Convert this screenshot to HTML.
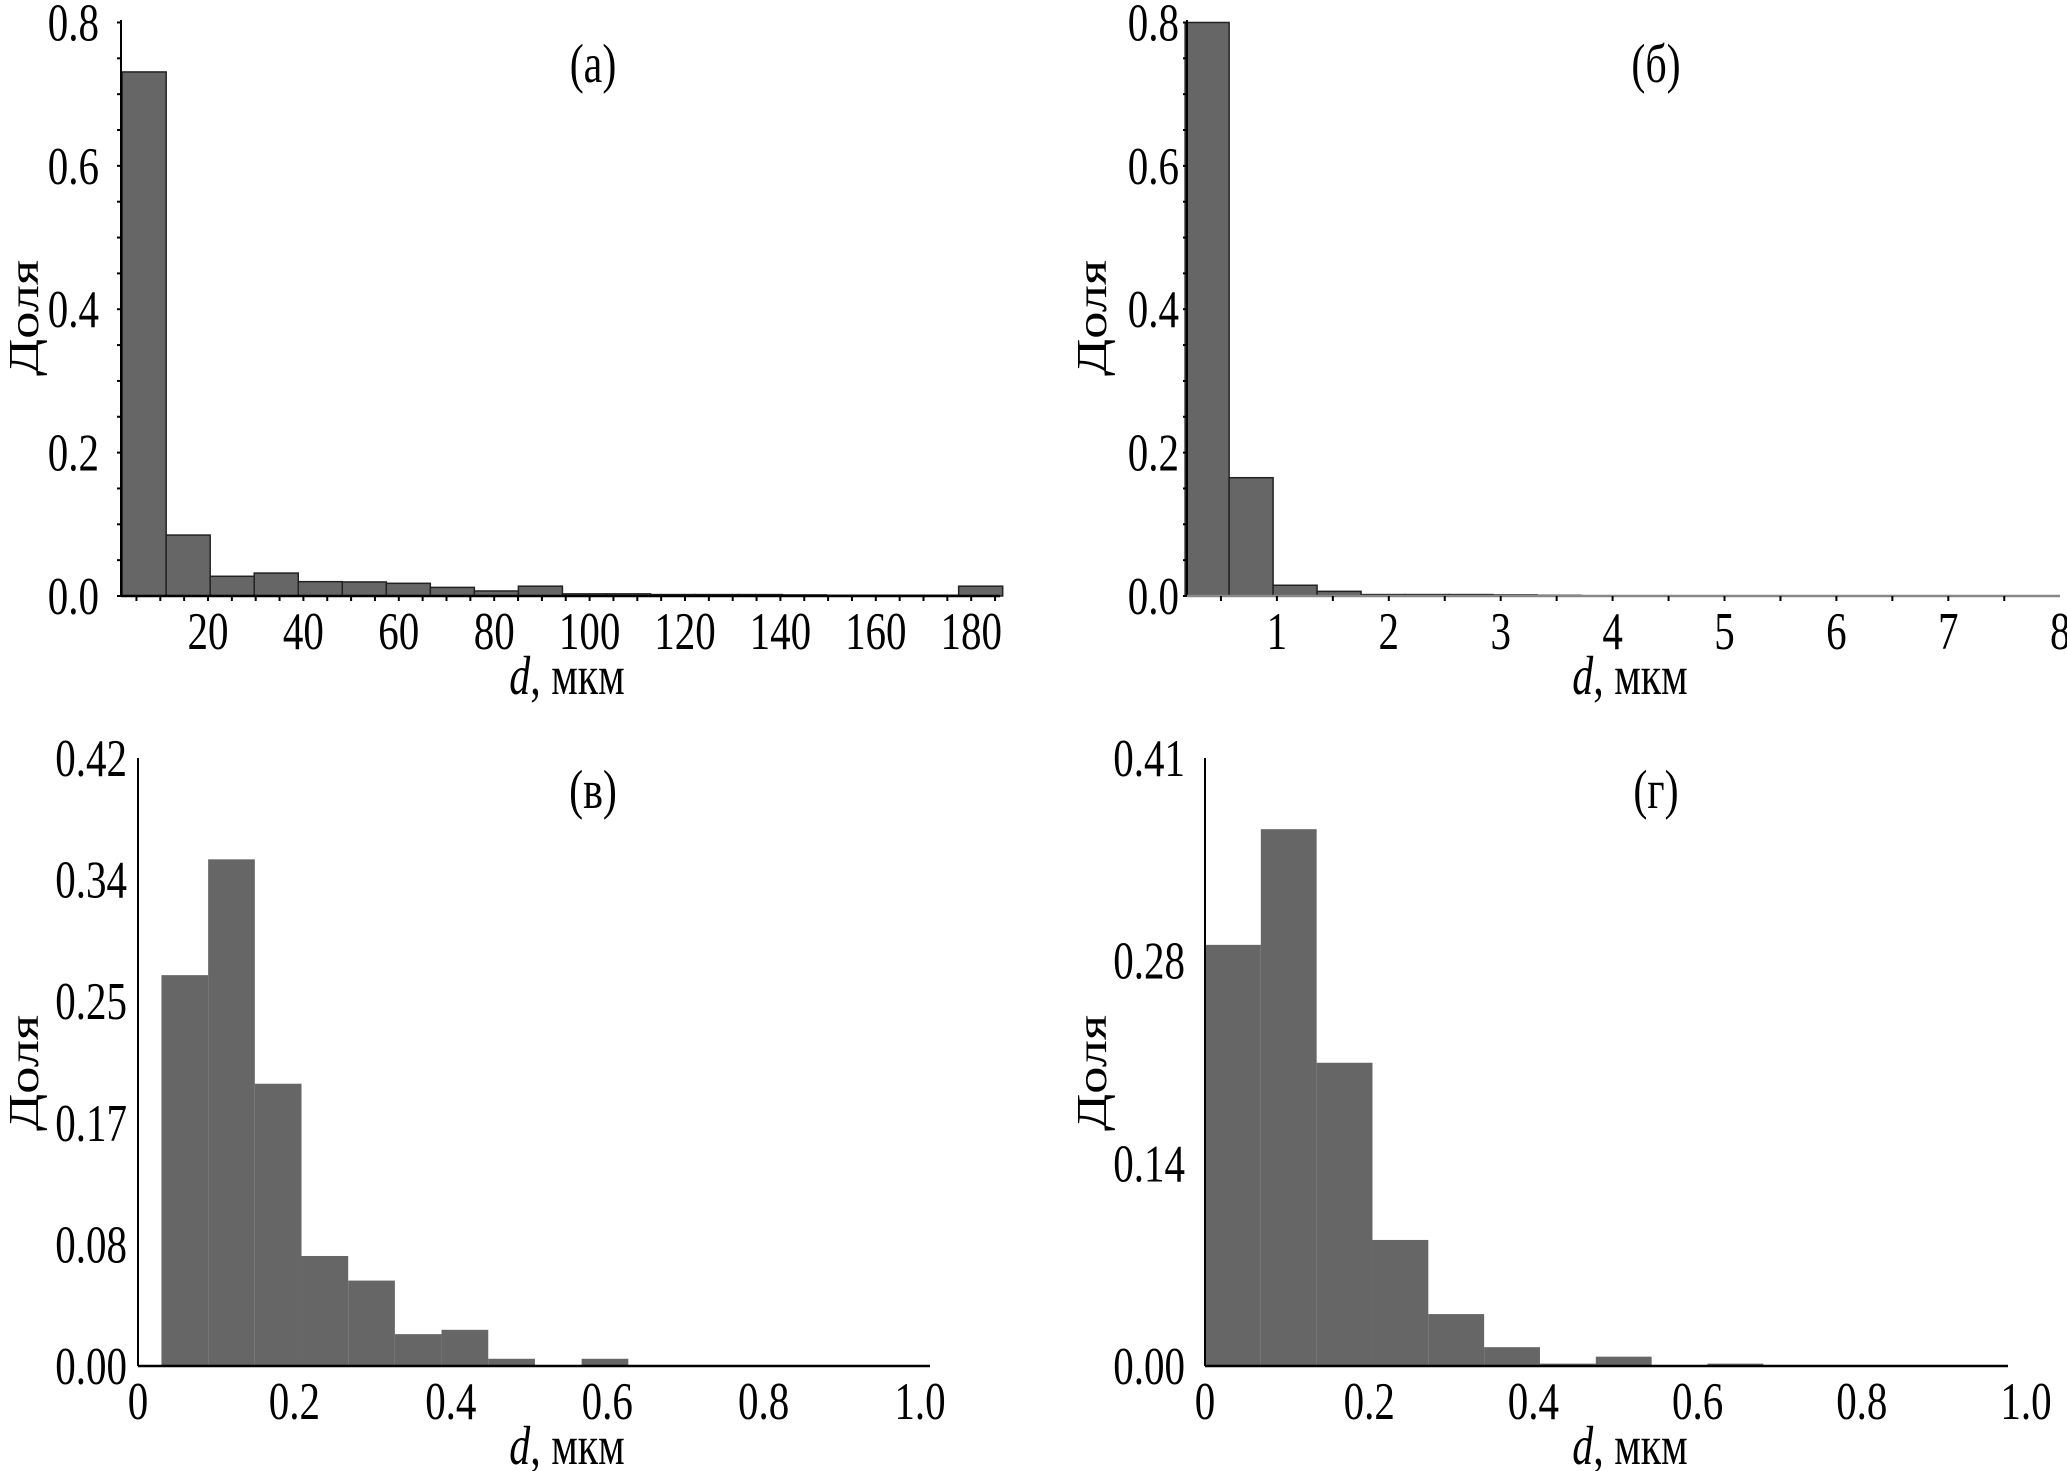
<!DOCTYPE html>
<html><head><meta charset="utf-8"><style>
html,body{margin:0;padding:0;background:#fff;}
svg{display:block;font-family:"Liberation Serif","Times New Roman",serif;}
svg text{font-family:"Liberation Serif","Times New Roman",serif;}
</style></head><body>
<svg id="chart" width="2067" height="1471" viewBox="0 0 2067 1471" xmlns="http://www.w3.org/2000/svg"></svg>
<script>
// Panel (a)
const aValues = [0.731,0.085,0.0275,0.032,0.020,0.0196,0.0177,0.012,0.007,0.0137,0.003,0.003,0.002,0.002,0.002,0.0015,0.001,0.001,0.001,0.0137];
const aStart = 2.0, aWidth = 9.23;
const aXTicks = [20,40,60,80,100,120,140,160,180];
const aYTicks = [0,0.2,0.4,0.6,0.8];
const aYLabels = ["0.0","0.2","0.4","0.6","0.8"];
// Panel (б)
const bValues = [0.8,0.165,0.015,0.0065,0.002,0.002,0.002,0.0015,0.001];
const bStart = 0.18, bWidth = 0.393;
const bXTicks = [1,2,3,4,5,6,7,8];
const bYTicks = [0,0.2,0.4,0.6,0.8];
const bYLabels = ["0.0","0.2","0.4","0.6","0.8"];
// Panel (в)
const cValues = [0.270,0.350,0.195,0.076,0.059,0.022,0.025,0.005,0,0.005];
const cStart = 0.03, cWidth = 0.0597;
const cXTicks = [0,0.2,0.4,0.6,0.8,1.0];
const cXLabels = ["0","0.2","0.4","0.6","0.8","1.0"];
const cYTicks = [0,0.084,0.168,0.252,0.336,0.42];
const cYLabels = ["0.00","0.08","0.17","0.25","0.34","0.42"];
// Panel (г)
const dValues = [0.284,0.362,0.2045,0.085,0.035,0.0127,0.0016,0.0063,0,0.0016];
const dStart = 0.0, dWidth = 0.068;
const dXTicks = [0,0.2,0.4,0.6,0.8,1.0];
const dXLabels = ["0","0.2","0.4","0.6","0.8","1.0"];
const dYTicks = [0,0.1367,0.2733,0.41];
const dYLabels = ["0.00","0.14","0.28","0.41"];

const NS="http://www.w3.org/2000/svg";
const svg=document.getElementById('chart');
const FONT='Liberation Serif, Times New Roman, serif';
const SY=1.3;
function mk(tag,attrs,parent){const e=document.createElementNS(NS,tag);for(const k in attrs)e.setAttribute(k,attrs[k]);(parent||svg).appendChild(e);return e;}
function txt(parent,x,y,anchor,size,extra){
  const t=mk('text',Object.assign({x:0,y:0,'font-size':size,'text-anchor':anchor,'font-family':FONT,transform:`translate(${x},${y}) scale(1,${SY})`},extra||{}),parent);
  return t;
}

function panel(cfg){
  const g=mk('g',{});
  
  
  const X=v=>cfg.x0+cfg.xs*v, Y=v=>cfg.y0-cfg.ys*v;
  cfg.values.forEach((v,i)=>{
    const x1=X(cfg.start+i*cfg.width), x2=X(cfg.start+(i+1)*cfg.width);
    if(v<=0) return;
    const r=mk('rect',{x:x1,y:Y(v),width:x2-x1,height:cfg.y0-Y(v),fill:'#666',stroke:cfg.stroke?'#222':'none','stroke-width':cfg.stroke?1.5:0},g);
    
    
  });
  const ya=mk('line',{x1:cfg.ax,y1:cfg.ytop,x2:cfg.ax,y2:cfg.y0,stroke:'#000','stroke-width':2},g);
  
  
  const xa=mk('line',{x1:cfg.ax,y1:cfg.y0,x2:cfg.xend,y2:cfg.y0,stroke:cfg.xcol||'#000','stroke-width':2.5},g);
  
  
  if(cfg.minorY){for(let v=0;v<=cfg.ymax+1e-9;v+=cfg.minorY){mk('line',{x1:cfg.ax-4,y1:Y(v),x2:cfg.ax,y2:Y(v),stroke:'#000','stroke-width':2},g);}}
  if(cfg.minorX){for(let v=cfg.minorX*Math.ceil((cfg.ax-cfg.x0)/cfg.xs/cfg.minorX);X(v)<=cfg.xend;v+=cfg.minorX){mk('line',{x1:X(v),y1:cfg.y0,x2:X(v),y2:cfg.y0+5,stroke:'#000','stroke-width':2},g);}}
  cfg.xticks.forEach((v,i)=>{
    const t=txt(g,X(v),cfg.y0+53,'middle',41);
    t.textContent=cfg.xlabels?cfg.xlabels[i]:String(v);
    
    
  });
  cfg.yticks.forEach((v,i)=>{
    const t=txt(g,cfg.ax-cfg.ygap,Y(v)+18,'end',41);
    t.textContent=cfg.ylabels[i];
    
    
  });
  const tt=txt(g,cfg.tx,cfg.ty,'middle',42);
  tt.textContent=cfg.title;
  
  
  const xl=txt(g,cfg.lx,cfg.y0+98,'middle',42);
  xl.innerHTML='<tspan font-style="italic">d</tspan>, мкм';
  
  
  const yl=mk('text',{x:0,y:0,'font-size':42,'text-anchor':'middle','font-family':FONT,transform:`translate(${cfg.yx},${cfg.yy}) rotate(-90) scale(1.3,1)`},g);
  yl.textContent='Доля';
  
  
}

panel({name:'panel-a',values:aValues,start:aStart,width:aWidth,x0:112.6,xs:4.77,y0:596,ys:716.9,ax:121,ytop:20,xend:1000,ymax:0.8,minorY:0.05,minorX:5,stroke:true,
  xticks:aXTicks,yticks:aYTicks,ylabels:aYLabels,ygap:22,title:'(а)',tx:593,ty:82,lx:567,yx:38,yy:318});
panel({name:'panel-b',values:bValues,start:bStart,width:bWidth,x0:1165,xs:111.9,y0:596,ys:716.9,ax:1187,ytop:20,xend:2060,ymax:0.8,minorY:0.05,minorX:0.5,stroke:true,xcol:'#888',
  xticks:bXTicks,yticks:bYTicks,ylabels:bYLabels,ygap:8,title:'(б)',tx:1656,ty:82,lx:1630,yx:1106,yy:318});
panel({name:'panel-c',values:cValues,start:cStart,width:cWidth,x0:138,xs:782,y0:1366,ys:1447.6,ax:138,ytop:758,xend:930,ymax:0.42,stroke:false,
  xticks:cXTicks,xlabels:cXLabels,yticks:cYTicks,ylabels:cYLabels,ygap:11,title:'(в)',tx:593,ty:808,lx:567,yx:38,yy:1073});
panel({name:'panel-d',values:dValues,start:dStart,width:dWidth,x0:1205,xs:821,y0:1366,ys:1482.9,ax:1205,ytop:758,xend:2008,ymax:0.41,stroke:false,
  xticks:dXTicks,xlabels:dXLabels,yticks:dYTicks,ylabels:dYLabels,ygap:20,title:'(г)',tx:1656,ty:808,lx:1630,yx:1106,yy:1073});
</script>
</body></html>
